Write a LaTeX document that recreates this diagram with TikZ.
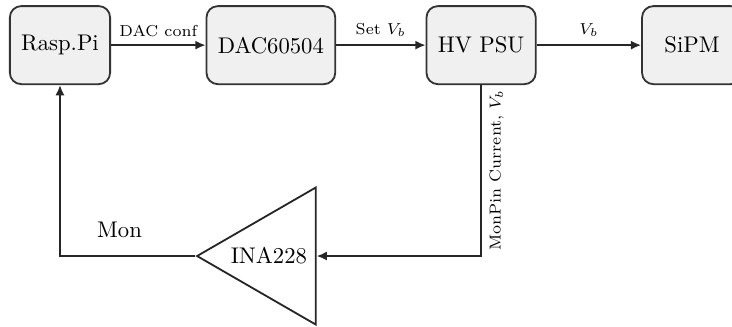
\documentclass[tikz,border=0pt]{standalone}
\usepackage{amsmath,amssymb}
\usetikzlibrary{arrows.meta,shapes.geometric,positioning}

\begin{document}
\begin{tikzpicture}[
    block/.style={draw=black!80, thick, rounded corners=5pt, fill=black!6, minimum width=1.55cm, minimum height=1.21cm, inner xsep=5pt, align=center},
    amp/.style={draw=black!85, thick, isosceles triangle, isosceles triangle apex angle=60, shape border rotate=180, minimum height=1.84cm, minimum width=2.12cm, inner sep=1pt},
    arr/.style={-{Latex[length=4.5pt,width=4pt]}, thick, black!85},
    lbl/.style={font=\scriptsize, text=black}
]
\useasboundingbox (-0.93,0.70) rectangle (10.42,-4.36);

\node[block] (pi) at (0,0) {Rasp.Pi};
\node[block] (dac) at (3.27,0) {DAC60504};
\node[block] (psu) at (6.53,0) {HV PSU};
\node[block] (sipm) at (9.8,0) {SiPM};
\node[amp, anchor=lower side] (ina) at (3.98,-3.27) {INA228};

\draw[arr] (pi) -- node[lbl, above] {DAC conf} (dac);
\draw[arr] (dac) -- node[lbl, above] {Set $V_b$} (psu);
\draw[arr] (psu) -- node[lbl, above] {$V_b$} (sipm);
\draw[arr] (psu.south) |- node[lbl, pos=0.25, anchor=north, rotate=90] {MonPin Current, $V_b$} (ina.east);
\draw[arr] (ina.west) -| node[pos=0.28, above=1.5mm, text=black] {Mon} (pi.south);
\end{tikzpicture}
\end{document}
